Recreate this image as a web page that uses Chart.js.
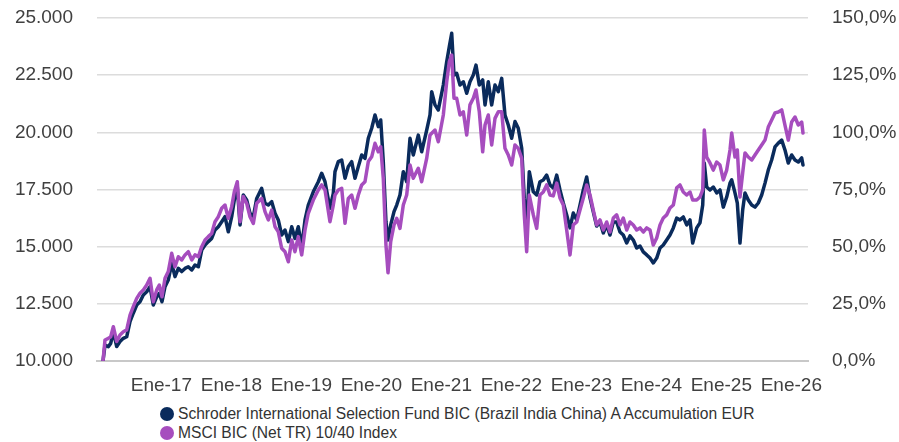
<!DOCTYPE html>
<html lang="es">
<head>
  <meta charset="UTF-8" />
  <title>Rentabilidad 10 años</title>
  <script src="https://cdn.jsdelivr.net/npm/chart.js"></script>
  <style>
    body { margin: 0; background: #fff; font-family: "Liberation Sans", Arial, sans-serif; }
    #caja { width: 899px; height: 400px; }
    #leyenda { padding-left: 160px; margin-top: 4px; font-size: 15.6px; color: #333; }
    .item { height: 19px; line-height: 19px; white-space: nowrap; }
    .punto { display: inline-block; width: 14px; height: 14px; border-radius: 50%; vertical-align: -2px; margin-right: 4px; }
  </style>
</head>
<body>
  <div id="caja"><canvas id="grafica" width="899" height="400"></canvas></div>
  <div id="leyenda"></div>

  <script>
    // meses desde mar-2016
    const meses = [
      0,0.34,0.91,1.32,1.77,2.35,2.91,3.48,4.06,4.63,
      5.19,5.78,6.34,6.91,7.49,8.06,8.62,9.21,9.65,10.11,
      10.63,11.19,11.78,12.34,12.91,13.49,14.06,14.62,15.21,15.77,
      16.34,16.92,17.49,18.05,18.63,19.2,19.77,20.35,20.91,21.48,
      22.06,22.51,23.02,23.49,24.05,24.63,25.2,25.77,26.35,27.2,
      27.77,28.34,28.92,29.49,30.05,30.63,31.2,31.77,32.35,32.91,
      33.48,34.06,34.63,35.19,36.05,36.91,37.49,38.06,38.91,39.48,
      39.77,40.34,40.92,41.49,42.05,42.63,43.2,43.77,44.35,44.91,
      45.48,46.06,46.63,47.19,47.61,48.05,48.51,48.86,49.32,49.89,
      50.35,50.91,51.48,52.06,52.63,53.19,54.05,54.63,55.49,56.06,
      56.35,56.91,57.48,58.34,58.92,59.37,59.78,60.17,60.63,61.2,
      61.77,62.35,62.91,63.48,63.94,64.51,65.09,65.49,66.05,66.63,
      67.2,67.77,68.35,68.91,69.48,70.06,70.63,71.19,71.78,72.22,
      72.63,73.08,73.77,74.35,74.91,75.48,76.06,76.63,77.19,77.78,
      78.34,78.91,79.49,80.06,80.62,81.21,81.77,82.34,82.92,83.49,
      84.05,84.63,85.2,85.77,86.35,86.91,87.48,88.06,88.63,89.19,
      89.78,90.34,90.91,91.49,92.06,92.62,93.21,93.77,94.34,94.92,
      95.49,96.05,96.63,97.2,97.77,98.35,98.91,99.48,100.06,100.63,
      101.09,101.78,102.34,102.81,103.08,103.49,104.06,104.62,105.21,105.77,
      106.34,106.92,107.49,107.78,108.34,108.74,109.2,109.66,110.06,110.62,
      111.21,111.77,112.34,112.92,113.49,114.05,114.63,115.2,115.77,116.35,
      116.91,117.48,118.06,118.63,119.2,119.78,120
    ];

    const fondo = [
      10000,10700,10630,10770,11280,10630,10850,10990,11060,11720,
      12090,12450,12590,12890,13030,13250,12450,12810,12960,12590,
      13250,13540,14270,13690,14050,13910,14050,14120,13980,14200,
      14120,14850,15070,15220,15360,15730,15870,16090,16310,15650,
      16310,17040,17620,15950,17260,17040,16460,16310,17110,17550,
      16900,16820,16970,16460,16170,15510,15730,15220,15870,15360,
      15870,15000,16170,16820,17400,17840,18210,17840,16680,17330,
      18280,18720,18790,17990,18500,18720,17990,18500,19010,18860,
      19740,20180,20760,20250,20540,18720,16090,15290,15950,16530,
      16820,17260,18280,17840,19740,19010,19880,19150,20100,20760,
      21780,21200,20980,22070,23090,23750,24330,22510,22580,22070,
      22210,21710,22210,22510,22940,22070,22290,21200,22210,21200,
      22070,21780,22360,20760,20320,19740,20470,20180,19300,17120,
      15730,18280,17400,17260,17840,17915,18130,17700,17570,18130,
      17480,16910,16390,15820,16470,16170,16820,17480,18050,17130,
      16520,15900,16080,15600,15950,15510,16080,16080,15640,15510,
      15160,15470,15290,14940,15030,14770,14640,14500,14290,14500,
      14940,15070,15290,15510,15820,16250,16170,16300,15950,16170,
      15160,15820,16040,16820,18660,17610,17480,17610,17350,17480,
      16730,17170,17780,17920,17350,16910,15160,16600,17350,17040,
      16820,16730,16910,17260,17780,18350,18790,19360,19530,19660,
      19230,18660,19010,18790,18700,18880,18570
    ];

    const indice = [
      10000,10920,10990,11060,11500,10850,11140,11280,11360,12010,
      12380,12740,12960,13110,13320,13620,12590,13110,13320,12810,
      13620,13910,14710,14120,14560,14420,14640,14780,14420,14640,
      14560,15000,15290,15440,15580,16090,16310,16680,16820,16240,
      16750,17400,17840,16090,17190,16900,16310,16020,16900,17110,
      16530,16170,16600,15870,15650,14930,14780,14340,15290,14780,
      15440,14640,15730,16460,17040,17480,17700,17480,16090,16820,
      17260,17480,17550,16020,17110,17260,16680,17260,17700,17840,
      18720,18930,19520,19150,19370,17990,15070,13860,15220,15950,
      16240,15800,16820,17260,18570,17990,18430,17840,18860,19880,
      19960,20100,19590,20760,22210,23090,23380,21490,21490,20760,
      20900,19880,21200,21490,21850,20900,19150,20320,20760,19450,
      20610,20900,20900,19300,19010,18570,19450,19300,18860,16390,
      14780,17260,16390,15800,17260,17390,17700,17260,17220,17780,
      17130,16820,15730,14640,15950,16080,16600,17130,17700,17260,
      16600,15950,16170,15730,16080,15640,16250,16390,15950,16250,
      15730,16080,15950,15730,15820,15640,15820,15730,15070,15380,
      15950,16250,16390,16690,16820,17570,17700,17390,17260,17390,
      17040,17040,17170,17480,20100,18920,18660,18350,18700,18570,
      17920,18350,19230,19970,18920,19230,17170,18220,19100,18920,
      18790,19010,19230,19450,19660,20230,20540,20850,20890,20980,
      20320,19660,20450,20670,20320,20450,19970
    ];

    const etiquetasX = ['Ene-17','Ene-18','Ene-19','Ene-20','Ene-21','Ene-22','Ene-23','Ene-24','Ene-25','Ene-26'];
    const posicionesX = [10, 22, 34, 46, 58, 70, 82, 94, 106, 118];

    const nombres = [
      'Schroder International Selection Fund BIC (Brazil India China) A Accumulation EUR',
      'MSCI BIC (Net TR) 10/40 Index'
    ];
    const colores = ['#0a2b5c', '#a64dbe'];

    const fuente = '"Liberation Sans", Arial, sans-serif';
    const gris = '#404040';

    function miles(v) {
      return String(v).replace(/\B(?=(\d{3})+(?!\d))/g, '.');
    }

    function puntos(valores) {
      return meses.map((m, i) => ({ x: m, y: valores[i] }));
    }

    // ejes verticales: ancho fijo y sin relleno extra arriba/abajo
    function ajustarEje(ancho) {
      return s => {
        s.width = ancho;
        s.paddingTop = 0;
        s.paddingBottom = 0;
      };
    }

    function serie(i, valores, orden) {
      return {
        label: nombres[i],
        data: puntos(valores),
        borderColor: colores[i],
        borderWidth: 3.5,
        borderJoinStyle: 'round',
        borderCapStyle: 'round',
        pointRadius: 0,
        order: orden
      };
    }

    const ctx = document.getElementById('grafica').getContext('2d');
    new Chart(ctx, {
      type: 'line',
      data: {
        datasets: [serie(0, fondo, 2), serie(1, indice, 1)]
      },
      options: {
        responsive: false,
        animation: false,
        layout: { padding: { top: 18 } },
        plugins: { legend: { display: false }, tooltip: { enabled: false } },
        scales: {
          x: {
            type: 'linear',
            min: -1.03,
            max: 120.86,
            afterFit: s => { s.height = 39; },
            afterBuildTicks: s => { s.ticks = posicionesX.map(v => ({ value: v })); },
            grid: { display: false },
            border: { color: '#c8c8c8', width: 2 },
            ticks: {
              autoSkip: false, maxRotation: 0, padding: 5,
              color: gris, font: { family: fuente, size: 19 },
              callback: (v, i) => etiquetasX[i]
            }
          },
          y: {
            position: 'left',
            min: 10000, max: 25000,
            afterFit: ajustarEje(97),
            grid: { color: '#dcdcdc', lineWidth: 1.5, drawTicks: false },
            border: { display: false },
            ticks: {
              stepSize: 2500, padding: 24,
              color: gris, font: { family: fuente, size: 19 },
              callback: v => miles(v)
            }
          },
          y2: {
            position: 'right',
            min: 0, max: 150,
            afterFit: ajustarEje(91),
            grid: { display: false, drawTicks: false },
            border: { display: false },
            ticks: {
              stepSize: 25, padding: 24,
              color: gris, font: { family: fuente, size: 19 },
              callback: v => v.toFixed(1).replace('.', ',') + '%'
            }
          }
        }
      }
    });

    const leyenda = document.getElementById('leyenda');
    nombres.forEach((n, i) => {
      const fila = document.createElement('div');
      fila.className = 'item';
      fila.innerHTML = '<span class="punto" style="background:' + colores[i] + '"></span>' + n;
      leyenda.appendChild(fila);
    });
  </script>
</body>
</html>
